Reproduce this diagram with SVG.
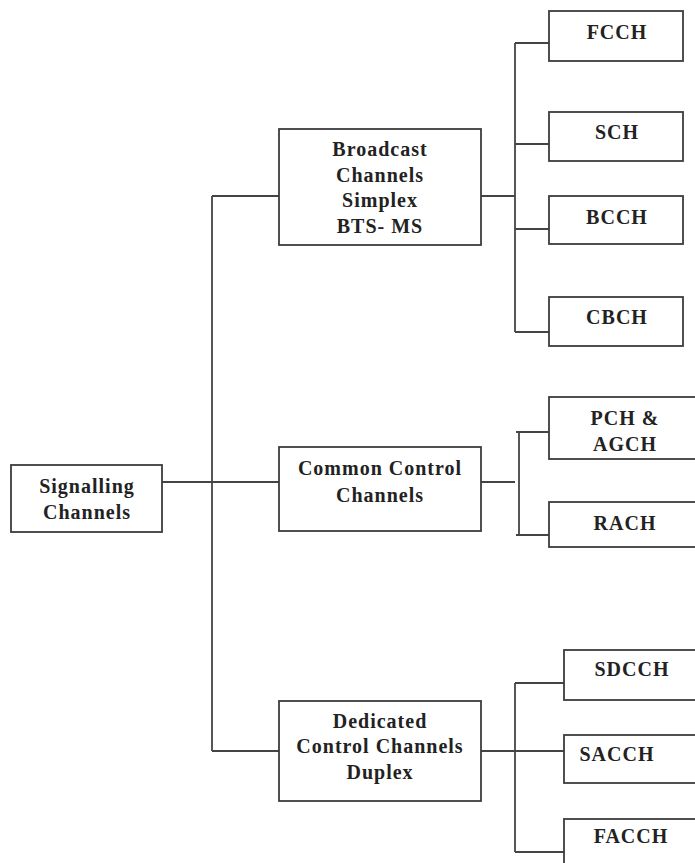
<svg xmlns="http://www.w3.org/2000/svg" width="695" height="863" viewBox="0 0 695 863">
  <style>
    .box { fill: #ffffff; stroke: #3c3c3c; stroke-width: 1.8; }
    .wire { fill: none; stroke: #444444; stroke-width: 1.8; }
    .lbl { font-family: "Liberation Serif", "Times New Roman", serif; font-weight: bold; font-size: 20px; letter-spacing: 1px; fill: #222222; text-anchor: middle; }
  </style>
  <rect width="695" height="863" fill="#ffffff"/>

  <!-- connectors -->
  <g id="connectors" class="wire">
    <!-- root to trunk -->
    <path d="M162 482 H280"/>
    <path d="M212 196 V751"/>
    <path d="M212 196 H279"/>
    <path d="M212 751 H279"/>
    <!-- broadcast branches -->
    <path d="M481 196 H515"/>
    <path d="M515 43 V332"/>
    <path d="M515 43 H549"/>
    <path d="M515 144 H549"/>
    <path d="M515 229 H549"/>
    <path d="M515 332 H549"/>
    <!-- common control branches -->
    <path d="M481 482 H515"/>
    <path d="M519 432 V535"/>
    <path d="M516 432 H549"/>
    <path d="M516 535 H549"/>
    <!-- dedicated branches -->
    <path d="M481 751 H515"/>
    <path d="M515 683 V852"/>
    <path d="M515 683 H564"/>
    <path d="M515 751 H564"/>
    <path d="M515 852 H564"/>
  </g>

  <g id="signalling">
    <rect class="box" x="11" y="465" width="151" height="67"/>
    <text class="lbl" x="87" y="493">Signalling</text>
    <text class="lbl" x="87" y="519">Channels</text>
  </g>

  <g id="broadcast">
    <rect class="box" x="279" y="129" width="202" height="116"/>
    <text class="lbl" x="380" y="156">Broadcast</text>
    <text class="lbl" x="380" y="182">Channels</text>
    <text class="lbl" x="380" y="207">Simplex</text>
    <text class="lbl" x="380" y="233">BTS- MS</text>
  </g>

  <g id="common">
    <rect class="box" x="279" y="447" width="202" height="84"/>
    <text class="lbl" x="380" y="475">Common Control</text>
    <text class="lbl" x="380" y="502">Channels</text>
  </g>

  <g id="dedicated">
    <rect class="box" x="279" y="701" width="202" height="100"/>
    <text class="lbl" x="380" y="728">Dedicated</text>
    <text class="lbl" x="380" y="753">Control Channels</text>
    <text class="lbl" x="380" y="779">Duplex</text>
  </g>

  <g id="fcch">
    <rect class="box" x="549" y="11" width="134" height="50"/>
    <text class="lbl" x="617" y="39">FCCH</text>
  </g>
  <g id="sch">
    <rect class="box" x="549" y="112" width="134" height="49"/>
    <text class="lbl" x="617" y="139">SCH</text>
  </g>
  <g id="bcch">
    <rect class="box" x="549" y="196" width="134" height="48"/>
    <text class="lbl" x="617" y="224">BCCH</text>
  </g>
  <g id="cbch">
    <rect class="box" x="549" y="297" width="134" height="49"/>
    <text class="lbl" x="617" y="324">CBCH</text>
  </g>

  <g id="pch-agch">
    <rect class="box" x="549" y="397" width="170" height="62"/>
    <text class="lbl" x="625" y="425">PCH &amp;</text>
    <text class="lbl" x="625" y="451">AGCH</text>
  </g>
  <g id="rach">
    <rect class="box" x="549" y="502" width="170" height="45"/>
    <text class="lbl" x="625" y="530">RACH</text>
  </g>

  <g id="sdcch">
    <rect class="box" x="564" y="650" width="160" height="50"/>
    <text class="lbl" x="632" y="676">SDCCH</text>
  </g>
  <g id="sacch">
    <rect class="box" x="564" y="735" width="160" height="48"/>
    <text class="lbl" x="617" y="761">SACCH</text>
  </g>
  <g id="facch">
    <rect class="box" x="564" y="819" width="160" height="60"/>
    <text class="lbl" x="631" y="843">FACCH</text>
  </g>
</svg>
